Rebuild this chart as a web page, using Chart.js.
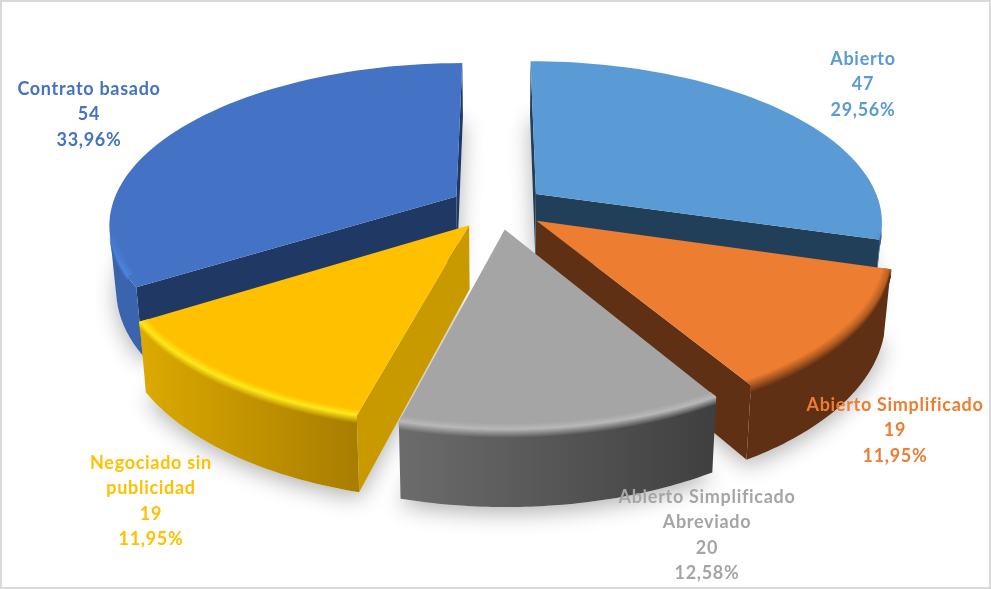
<!DOCTYPE html>
<html>
<head>
<meta charset="utf-8">
<style>
  html, body { margin: 0; padding: 0; background: #ffffff; }
  #box { position: relative; width: 991px; height: 589px; }
  #box canvas { display: block; outline: 2px solid #d9d9d9; outline-offset: -2px; }
</style>
<script src="https://cdn.jsdelivr.net/npm/chart.js@4/dist/chart.umd.js"></script>
</head>
<body>
<div id="box"><canvas id="pie" width="991" height="589"></canvas></div>
<script>
// Chart data
var categories = ['Abierto', 'Abierto Simplificado', 'Abierto Simplificado Abreviado', 'Negociado sin publicidad', 'Contrato basado'];
var values = [47, 19, 20, 19, 54];
var percents = ['29,56%', '11,95%', '12,58%', '11,95%', '33,96%'];
var categoryLines = [['Abierto'], ['Abierto Simplificado'], ['Abierto Simplificado', 'Abreviado'], ['Negociado sin', 'publicidad'], ['Contrato basado']];

var topColors = ['#5b9bd5', '#ed7d31', '#a5a5a5', '#ffc000', '#4472c4'];
var labelColors = ['#5b9bd5', '#ed7d31', '#a5a5a5', '#ffc000', '#4472c4'];
var wallColors = ['#223f59', '#5f3013', '#4a4a4a', '#c99a00', '#1f3864'];
var rimLeftColors = ['#2f5f8a', '#5f3013', '#6c6c6c', '#dcaa00', '#3a64ae'];
var rimRightColors = ['#23466a', '#5f3013', '#3f3f3f', '#a97d00', '#2f5597'];
var bevelColors = ['#4f8ac0', '#b05a20', '#b8b8b8', '#ffe81a', '#4d86e0'];
var labelSpots = [[863, 59], [895, 405], [707, 497], [151, 463], [89, 89]];

function hexMix(a, b, t) {
    var out = '#';
    for (var i = 1; i < 7; i += 2) {
        var va = parseInt(a.substr(i, 2), 16);
        var vb = parseInt(b.substr(i, 2), 16);
        var v = Math.round(va + (vb - va) * t).toString(16);
        out += v.length < 2 ? '0' + v : v;
    }
    return out;
}

// Chart.js has no 3D pie, so the arcs it lays out are redrawn in perspective
var pie3d = {
    id: 'pie3d',
    beforeDatasetDraw: function (chart, args, opts) {
        var ctx = chart.ctx;
        var arcs = chart.getDatasetMeta(0).data;
        var grow = opts.radius / arcs[0].outerRadius;

        function project(dx, dy, z) {
            var s = 1 / (1 - dy * opts.perspective);
            return {
                x: opts.centerX + dx * s * (1 - z * opts.narrow),
                y: opts.centerY + opts.squash * dy * s + z * s
            };
        }

        var slices = arcs.map(function (arc, i) {
            var mid = (arc.startAngle + arc.endAngle) / 2;
            return {
                index: i,
                start: arc.startAngle,
                end: arc.endAngle,
                r: arc.outerRadius * grow,
                ox: Math.cos(mid) * opts.explode,
                oy: Math.sin(mid) * opts.explode
            };
        });

        function rimPoint(s, angle, r, z) {
            return project(s.ox + Math.cos(angle) * r, s.oy + Math.sin(angle) * r, z);
        }

        function outline(s, z) {
            var pts = [project(s.ox, s.oy, z)];
            for (var n = 0; n <= opts.segments; n++) {
                pts.push(rimPoint(s, s.start + (s.end - s.start) * n / opts.segments, s.r, z));
            }
            return pts;
        }

        function fillPoly(pts, style) {
            ctx.beginPath();
            pts.forEach(function (p, n) {
                if (n === 0) ctx.moveTo(p.x, p.y); else ctx.lineTo(p.x, p.y);
            });
            ctx.closePath();
            ctx.fillStyle = style;
            ctx.fill();
        }

        function facing(pts) {
            var sum = 0;
            for (var n = 0; n < pts.length; n++) {
                var p = pts[n], q = pts[(n + 1) % pts.length];
                sum += p.x * q.y - q.x * p.y;
            }
            return sum < 0;
        }

        function rimGradient(s, left, right) {
            var a = rimPoint(s, s.start, s.r, 0).x, b = rimPoint(s, s.end, s.r, 0).x;
            var g = ctx.createLinearGradient(Math.min(a, b), 0, Math.max(a, b), 0);
            g.addColorStop(0, left);
            g.addColorStop(1, right);
            return g;
        }

        // soft shadow first so that it lands only on the background
        ctx.save();
        ctx.shadowColor = 'rgba(0,0,0,0.3)';
        ctx.shadowBlur = 22;
        ctx.shadowOffsetY = 6;
        slices.forEach(function (s) {
            fillPoly(outline(s, opts.depth), '#ffffff');
        });
        ctx.restore();

        // back slices first
        slices.slice().sort(function (a, b) { return a.oy - b.oy; }).forEach(function (s) {
            var i = s.index;
            var top = outline(s, 0);
            var bottom = outline(s, opts.depth);
            var last = top.length - 1;

            // the two flat cut faces
            [[0, 1], [last, 0]].forEach(function (e) {
                var wall = [top[e[0]], top[e[1]], bottom[e[1]], bottom[e[0]]];
                if (facing(wall)) {
                    fillPoly(wall, wallColors[i]);
                }
            });

            // curved outer face: only the part turned towards the viewer
            var upper = [], lower = [], seen = [];
            for (var n = 1; n < last; n++) {
                var isFront = facing([top[n], top[n + 1], bottom[n + 1], bottom[n]]);
                seen.push(isFront);
                if (isFront) {
                    if (!upper.length) { upper.push(top[n]); lower.push(bottom[n]); }
                    upper.push(top[n + 1]);
                    lower.push(bottom[n + 1]);
                }
            }
            if (upper.length) {
                fillPoly(upper.concat(lower.slice().reverse()), rimGradient(s, rimLeftColors[i], rimRightColors[i]));
            }

            fillPoly(top, topColors[i]);

            // how strong the rounded edge is on each rim piece: fades out where the rim turns away
            var fade = seen.map(function (front, m) {
                if (!front) return 0;
                var strength = 1;
                for (var k = 1; k <= opts.fadeSegments; k++) {
                    if (seen[m - k] === false || seen[m + k] === false) {
                        strength = Math.min(strength, k / opts.fadeSegments);
                    }
                }
                return strength;
            });

            // rounded edge between the top and the outer face, front part only
            var steps = 20;
            for (var b = 0; b <= steps; b++) {
                var t = b / steps;
                var r = s.r - opts.bevelIn * Math.max(0, 1 - t * 2);
                var z = opts.bevelDown * Math.max(0, t * 2 - 1);
                var left, right;
                if (t < 0.5) {
                    left = right = hexMix(topColors[i], bevelColors[i], t * 2);
                } else {
                    left = hexMix(bevelColors[i], rimLeftColors[i], t * 2 - 1);
                    right = hexMix(bevelColors[i], rimRightColors[i], t * 2 - 1);
                }
                ctx.strokeStyle = rimGradient(s, left, right);
                ctx.lineWidth = 1.6;
                ctx.lineJoin = 'round';
                ctx.beginPath();
                var pen = false;
                for (var m = 0; m < opts.segments; m++) {
                    var a0 = s.start + (s.end - s.start) * m / opts.segments;
                    var a1 = s.start + (s.end - s.start) * (m + 1) / opts.segments;
                    var p0 = rimPoint(s, a0, r, z), p1 = rimPoint(s, a1, r, z);
                    if (fade[m] === 1) {
                        if (!pen) { ctx.moveTo(p0.x, p0.y); pen = true; }
                        ctx.lineTo(p1.x, p1.y);
                    } else {
                        pen = false;
                        if (fade[m] > 0) {
                            ctx.save();
                            ctx.globalAlpha = fade[m];
                            ctx.beginPath();
                            ctx.moveTo(p0.x, p0.y);
                            ctx.lineTo(p1.x, p1.y);
                            ctx.stroke();
                            ctx.restore();
                            ctx.beginPath();
                        }
                    }
                }
                ctx.stroke();
            }
        });

        return false;
    },
    afterDraw: function (chart, args, opts) {
        var ctx = chart.ctx;
        ctx.save();
        ctx.font = opts.font;
        ctx.letterSpacing = opts.tracking;
        ctx.textAlign = 'center';
        ctx.textBaseline = 'middle';
        categories.forEach(function (name, i) {
            var lines = categoryLines[i].concat([String(values[i]), percents[i]]);
            ctx.fillStyle = labelColors[i];
            lines.forEach(function (line, n) {
                ctx.fillText(line, labelSpots[i][0], labelSpots[i][1] + n * opts.lineHeight);
            });
        });
        ctx.restore();
    }
};

var ctx = document.getElementById('pie').getContext('2d');

var myChart = new Chart(ctx, {
    type: 'pie',
    data: {
        labels: categories,
        datasets: [{
            data: values,
            backgroundColor: topColors,
            borderWidth: 0
        }]
    },
    options: {
        responsive: false,
        animation: false,
        plugins: {
            legend: { display: false },
            tooltip: { enabled: false },
            pie3d: {
                centerX: 498,
                centerY: 207,
                radius: 345,
                explode: 48,
                squash: 0.46,
                perspective: 0.00048,
                depth: 63,
                narrow: 0.00028,
                segments: 60,
                fadeSegments: 8,
                bevelIn: 8,
                bevelDown: 7,
                font: 'bold 18px Lato, "Open Sans", sans-serif',
                tracking: '0.7px',
                lineHeight: 25.5
            }
        }
    },
    plugins: [pie3d]
});
</script>
</body>
</html>
